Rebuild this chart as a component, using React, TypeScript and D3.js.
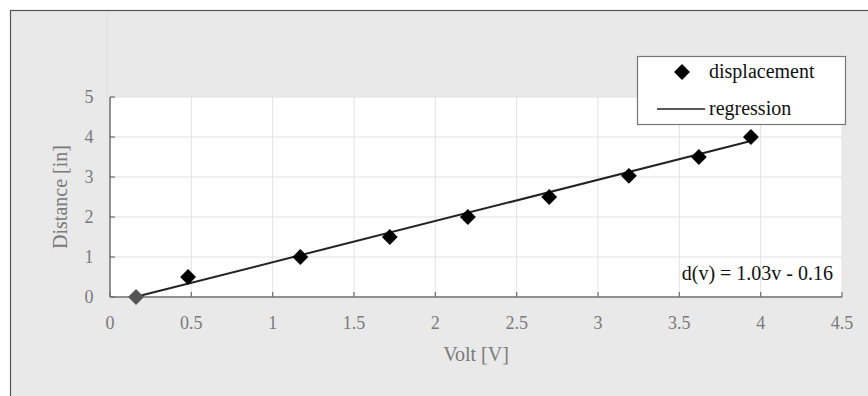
import * as d3 from "d3";
import React from "react";

const volts = [0.16, 0.48, 1.17, 1.72, 2.2, 2.7, 3.19, 3.62, 3.94];
const distances = [0, 0.5, 1, 1.5, 2, 2.5, 3.03, 3.5, 4];
const xTicks = [0, 0.5, 1, 1.5, 2, 2.5, 3, 3.5, 4, 4.5];
const yTicks = [0, 1, 2, 3, 4, 5];
const slope = 1.03;
const intercept = -0.16;
const fitRange = [0.16, 3.94];

const FONT = "'Liberation Serif', 'DejaVu Serif', serif";

const App = () => {
  const dims = { left: 110, right: 842, top: 97, bottom: 297 };
  const x = d3.scaleLinear().domain([0, 4.5]).range([dims.left, dims.right]);
  const y = d3.scaleLinear().domain([0, 5]).range([dims.bottom, dims.top]);

  const fitLine = d3
    .line<number>()
    .x((v) => x(v))
    .y((v) => y(slope * v + intercept))(fitRange);

  const diamond = d3.symbol().type(d3.symbolDiamond2).size(160)();

  return (
    <svg
      width={868}
      height={396}
      style={{ position: "absolute", left: 0, top: 0, fontFamily: FONT }}
    >
      <rect x={0} y={0} width={868} height={396} fill="#ffffff" />
      <rect x={10.5} y={10.5} width={900} height={420} fill="#e9e9e9" stroke="#555" strokeWidth={1.2} />
      <line x1={107} x2={107} y1={11} y2={dims.top} stroke="#dcdcdc" />
      <rect
        x={dims.left}
        y={dims.top}
        width={dims.right - dims.left}
        height={dims.bottom - dims.top}
        fill="#ffffff"
      />
      {/* grid */}
      {xTicks.slice(1).map((t) => (
        <line key={"gx" + t} x1={x(t)} x2={x(t)} y1={dims.top} y2={dims.bottom} stroke="#e2e2e2" />
      ))}
      {yTicks.slice(1).map((t) => (
        <line key={"gy" + t} x1={dims.left} x2={dims.right} y1={y(t)} y2={y(t)} stroke="#e2e2e2" />
      ))}
      {/* axes */}
      <line x1={dims.left} x2={dims.left} y1={dims.top} y2={dims.bottom} stroke="#6e6e6e" strokeWidth={1.5} />
      <line x1={dims.left} x2={dims.right} y1={dims.bottom} y2={dims.bottom} stroke="#6e6e6e" strokeWidth={1.5} />
      {yTicks.map((t) => (
        <g key={"ty" + t}>
          <line x1={dims.left} x2={dims.left + 5} y1={y(t)} y2={y(t)} stroke="#6e6e6e" strokeWidth={1.2} />
          <text x={89} y={y(t)} dy="0.35em" textAnchor="middle" fontSize={18} fill="#7a7a7a">
            {t}
          </text>
        </g>
      ))}
      {xTicks.map((t) => (
        <g key={"tx" + t}>
          <line x1={x(t)} x2={x(t)} y1={dims.bottom} y2={dims.bottom - 5} stroke="#6e6e6e" strokeWidth={1.2} />
          <text x={x(t)} y={329} textAnchor="middle" fontSize={18} fill="#7a7a7a">
            {t}
          </text>
        </g>
      ))}
      <text x={476} y={361} textAnchor="middle" fontSize={20} fill="#7a7a7a">
        Volt [V]
      </text>
      <text
        transform={`translate(67,${(dims.top + dims.bottom) / 2}) rotate(-90)`}
        textAnchor="middle"
        fontSize={20}
        fill="#7a7a7a"
      >
        Distance [in]
      </text>
      {/* regression */}
      <path d={fitLine ?? ""} fill="none" stroke="#222" strokeWidth={2} />
      {/* points */}
      {volts.map((v, i) => (
        <path
          key={"p" + i}
          d={diamond ?? ""}
          transform={`translate(${x(v)},${y(distances[i])})`}
          fill={i === 0 ? "#555" : "#000"}
        />
      ))}
      <text x={833} y={280} textAnchor="end" fontSize={20} fill="#111">
        d(v) = 1.03v - 0.16
      </text>
      {/* legend */}
      <rect x={637.5} y={56.5} width={208} height={68} fill="#ffffff" stroke="#777" strokeWidth={1.2} />
      <path d={diamond ?? ""} transform="translate(682,72)" fill="#000" />
      <text x={709} y={78} fontSize={20} fill="#111">
        displacement
      </text>
      <line x1={657} x2={705} y1={109} y2={109} stroke="#222" strokeWidth={1.5} />
      <text x={709} y={115} fontSize={20} fill="#111">
        regression
      </text>
    </svg>
  );
};

export default App;
